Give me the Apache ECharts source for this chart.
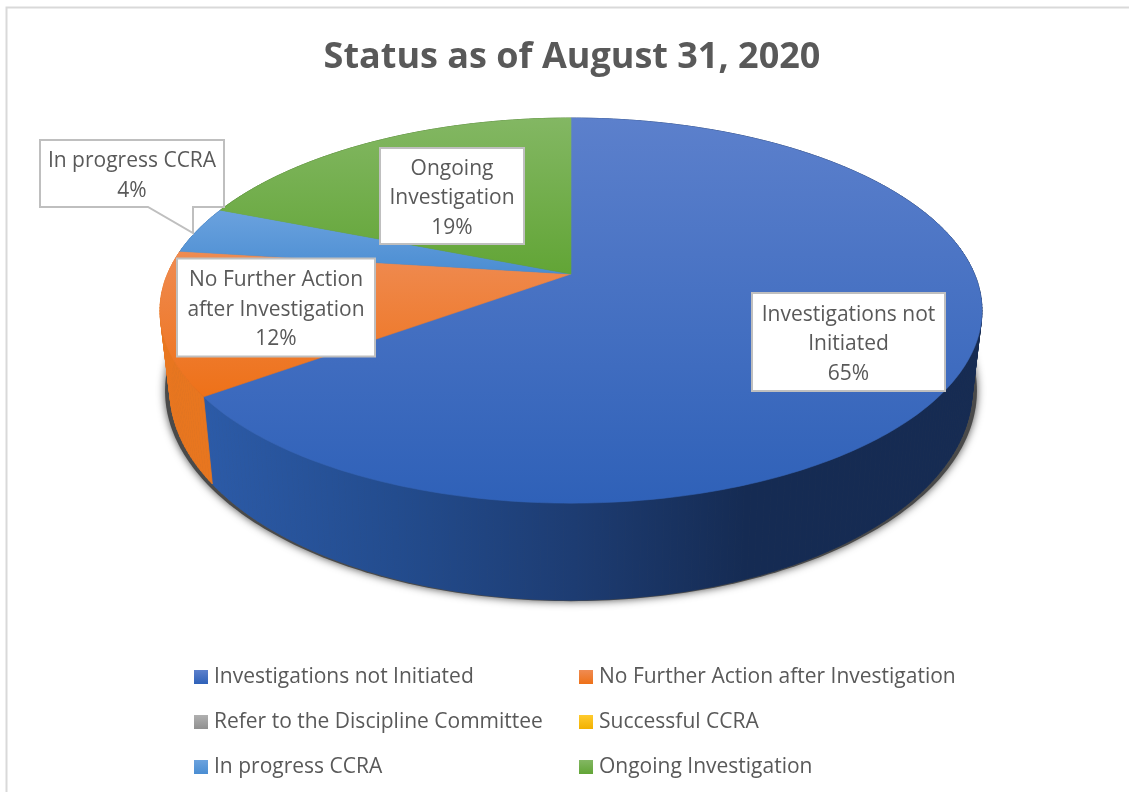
<!DOCTYPE html>
<html>
<head>
<meta charset="utf-8">
<style>html,body{margin:0;padding:0;background:#fff}#c{width:1129px;height:792px}</style>
<script src="https://cdn.jsdelivr.net/npm/echarts@6/dist/echarts.min.js"></script>
</head>
<body>
<div id="c"></div>
<script>
const titleText = 'Status as of August 31, 2020';
const categories = ['Investigations not Initiated','No Further Action after Investigation','Refer to the Discipline Committee','Successful CCRA','In progress CCRA','Ongoing Investigation'];
const values = [65, 12, 0, 0, 4, 19];
const faceColors = [['#5c80cc','#2f61b8'],['#ef8b52','#ee7118'],['#b0b0b0','#909090'],['#ffcb2e','#f2b100'],['#6ba2de','#4a8dd2'],['#83b763','#62a536']];
const wallStops = [
  [[0,'#2c5ba8'],[0.25,'#234c8e'],[0.48,'#1d3c72'],[0.7,'#152b53'],[1,'#162b52']],
  [[0,'#e8761f'],[1,'#d8681a']],[[0,'#777'],[1,'#777']],[[0,'#b88600'],[1,'#b88600']],
  [[0,'#2f6aa8'],[1,'#2f6aa8']],[[0,'#3f6f22'],[1,'#3f6f22']]
];
const labelLines = [['Investigations not','Initiated'],['No Further Action','after Investigation'],[],[],['In progress CCRA'],['Ongoing','Investigation']];

// layout
const FONT = '"Open Sans","Noto Sans",sans-serif';
const CX = 571, CY = 274, PA = 185.6, PB = 403.5, PK = 0.19;
const labelBoxes = [
  {x:752,y:293,w:193,h:98,lh:29.5},
  {x:177,y:258.5,w:198,h:98,lh:29.5},
  null,null,
  {x:40,y:140,w:184,h:67,lh:29.5,tail:[[148,207],[193,233],[193,207]]},
  {x:380,y:148,w:144,h:96,lh:29.5}
];
const legendPos = [[194,666.5],[579,666.5],[194,711.5],[579,711.5],[194,756.5],[579,756.5]];
const total = values.reduce((a,b)=>a+b,0);

function rimTop(f){
  const a = 2*Math.PI*f, u = Math.sin(a), v = Math.cos(a), d = 1+PK*v;
  return [CX+PB*u/d, CY-PA*v/d];
}
function rimLow(f){
  const p = rimTop(f);
  return [CX+(p[0]-CX)*0.976, p[1]+87+(p[1]-395)*0.0926];
}
function rimShadow(f){
  const p = rimLow(f);
  return [CX+(p[0]-CX)*1.012, p[1]+1];
}
function arc(fn,f0,f1){
  const n = Math.max(2,Math.ceil((f1-f0)*400)), r = [];
  for(let i=0;i<=n;i++) r.push(fn(f0+(f1-f0)*i/n));
  return r;
}
function grad(c){ return new echarts.graphic.LinearGradient(0,0,0,1,[{offset:0,color:c[0]},{offset:1,color:c[1]}]); }

function renderSlice(params, api){
  const idx = params.seriesIndex, val = api.value(0), kids = [];
  if(idx===0){
    kids.push({type:'polygon',z2:1,shape:{points:arc(rimShadow,0,1)},
      style:{fill:'#4a4a4a',shadowBlur:9,shadowColor:'rgba(0,0,0,0.7)'}});
  }
  if(val>0){
    let before = 0;
    for(let i=0;i<idx;i++) before += values[i];
    const f0 = before/total, f1 = (before+val)/total;
    const rim = arc(rimTop,f0,f1), lowPts = arc(rimLow,f0,f1);
    const stops = wallStops[idx].map(s=>({offset:s[0],color:s[1]}));
    const wallFill = new echarts.graphic.LinearGradient(201,0,980,0,stops,true);
    for(let i=0;i<rim.length-1;i++){
      kids.push({type:'polygon',z2:2,shape:{points:[rim[i],rim[i+1],lowPts[i+1],lowPts[i]]},
        style:{fill:wallFill,stroke:wallFill,lineWidth:0.8}});
    }
    const fill = grad(faceColors[idx]);
    kids.push({type:'polygon',z2:3,shape:{points:[[CX,CY]].concat(rim)},style:{fill:fill,stroke:fill,lineWidth:0.6}});
    const b = labelBoxes[idx];
    if(b){
      const l=b.x,r=b.x+b.w,t=b.y,m=b.y+b.h;
      const tail = b.tail||[];
      const pts = [[l,t],[r,t],[r,m]].concat(tail.slice().reverse()).concat([[l,m]]);
      kids.push({type:'polygon',z2:10,shape:{points:pts},style:{fill:'#fff',stroke:'#bfbfbf',lineWidth:2}});
      const lines = labelLines[idx].concat([val+'%']);
      lines.forEach((s,i)=>{
        kids.push({type:'text',z2:11,style:{
          x:l+b.w/2, y:t+b.h/2+2.5+(i-(lines.length-1)/2)*b.lh, text:s, align:'center', verticalAlign:'middle',
          font:'21px '+FONT, fill:'#595959'}});
      });
    }
  }
  return {type:'group',children:kids};
}

const chart = echarts.init(document.getElementById('c'),null,{renderer:'canvas'});
chart.setOption({
  animation:false,
  backgroundColor:'#fff',
  title:{text:titleText,left:567,top:35,textAlign:'center',
    textStyle:{fontFamily:FONT,fontWeight:'bold',fontSize:36,color:'#595959'}},
  graphic:[
    {type:'polyline',z:-1,shape:{points:[[6.5,792],[6.5,7.5],[1129,7.5]]},style:{stroke:'#d9d9d9',lineWidth:2,fill:null},silent:true}
  ],
  legend:categories.map((n,i)=>({
    data:[n],left:legendPos[i][0],top:legendPos[i][1],orient:'horizontal',padding:0,
    itemWidth:14,itemHeight:14,icon:'rect',selectedMode:false,
    textStyle:{fontFamily:FONT,fontSize:21,color:'#595959',padding:[0,0,0,1]}
  })),
  series:categories.map((n,i)=>({
    type:'custom',name:n,coordinateSystem:'none',silent:true,
    itemStyle:{color:grad(faceColors[i])},
    renderItem:renderSlice,data:[[values[i]]]
  }))
});
</script>
</body>
</html>
